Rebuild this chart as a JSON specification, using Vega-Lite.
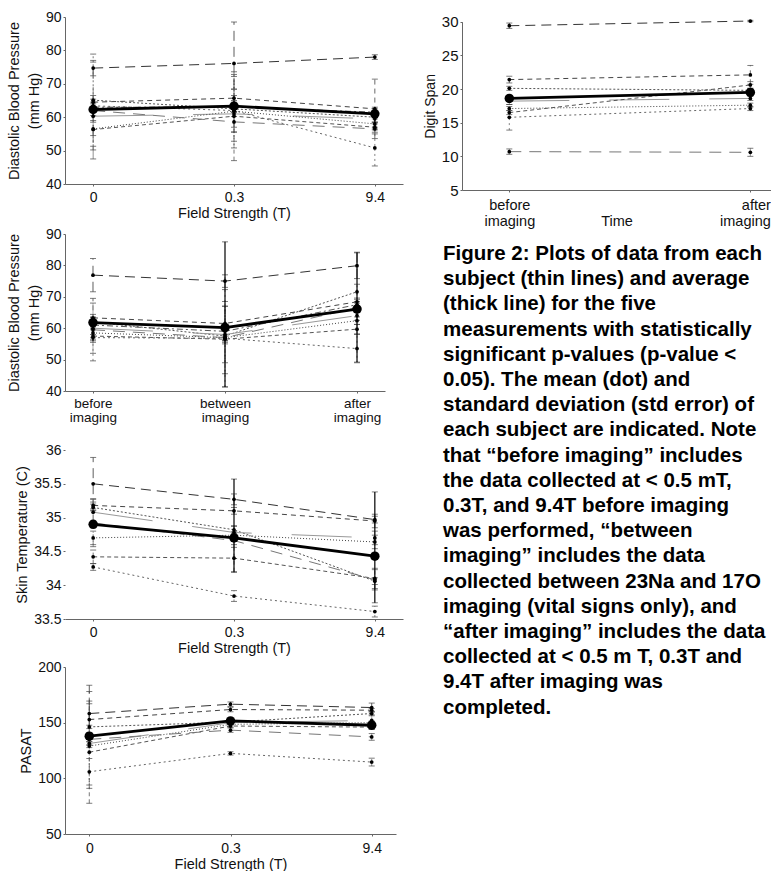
{
"$schema": "https://vega.github.io/schema/vega-lite/v6.json",
"background": "white",
"padding": {"left": 6, "top": 10, "right": 0, "bottom": 0},
"columns": 2,
"spacing": {"row": 44, "column": 59},
"bounds": "flush",
"datasets": {
"dbpField": [
{"subject":"A","x":"0","value":74.7,"lo":72.4,"hi":77.0},{"subject":"A","x":"0.3","value":76.1,"lo":63.7,"hi":88.5},{"subject":"A","x":"9.4","value":78.0,"lo":77.3,"hi":78.7},
{"subject":"B","x":"0","value":64.5,"lo":62.5,"hi":66.5},{"subject":"B","x":"0.3","value":65.7,"lo":63.0,"hi":68.4},{"subject":"B","x":"9.4","value":62.5,"lo":53.6,"hi":71.4},
{"subject":"C","x":"0","value":65.1,"lo":51.3,"hi":78.9},{"subject":"C","x":"0.3","value":62.5,"lo":52.8,"hi":72.2},{"subject":"C","x":"9.4","value":60.0,"lo":58.5,"hi":61.5},
{"subject":"D","x":"0","value":60.3,"lo":59.0,"hi":61.6},{"subject":"D","x":"0.3","value":61.0,"lo":55.5,"hi":66.5},{"subject":"D","x":"9.4","value":59.5,"lo":58.5,"hi":60.5},
{"subject":"E","x":"0","value":56.5,"lo":54.5,"hi":58.5},{"subject":"E","x":"0.3","value":61.8,"lo":50.8,"hi":72.8},{"subject":"E","x":"9.4","value":58.0,"lo":56.5,"hi":59.5},
{"subject":"F","x":"0","value":56.3,"lo":50.2,"hi":62.4},{"subject":"F","x":"0.3","value":60.3,"lo":47.0,"hi":73.6},{"subject":"F","x":"9.4","value":57.0,"lo":55.5,"hi":58.5},
{"subject":"G","x":"0","value":63.4,"lo":61.4,"hi":65.4},{"subject":"G","x":"0.3","value":62.0,"lo":55.6,"hi":68.4},{"subject":"G","x":"9.4","value":50.8,"lo":45.4,"hi":56.2},
{"subject":"H","x":"0","value":62.0,"lo":47.5,"hi":76.5},{"subject":"H","x":"0.3","value":58.6,"lo":57.0,"hi":60.2},{"subject":"H","x":"9.4","value":56.5,"lo":55.0,"hi":58.0},
{"subject":"I","x":"0","value":63.0,"lo":62.0,"hi":64.0},{"subject":"I","x":"0.3","value":63.0,"lo":61.5,"hi":64.5},{"subject":"I","x":"9.4","value":61.5,"lo":60.5,"hi":62.5},
{"subject":"mean","x":"0","value":62.3,"lo":60.5,"hi":64.5},{"subject":"mean","x":"0.3","value":63.3,"lo":61.5,"hi":65.0},{"subject":"mean","x":"9.4","value":61.0,"lo":57.0,"hi":63.0}
],
"dbpTime": [
{"subject":"A","x":"before imaging","value":76.9,"lo":71.6,"hi":82.2},{"subject":"A","x":"between imaging","value":75.0,"lo":73.0,"hi":77.0},{"subject":"A","x":"after imaging","value":79.9,"lo":75.8,"hi":84.0},
{"subject":"B","x":"before imaging","value":63.3,"lo":57.1,"hi":69.5},{"subject":"B","x":"between imaging","value":61.5,"lo":56.0,"hi":67.0},{"subject":"B","x":"after imaging","value":68.4,"lo":67.2,"hi":69.6},
{"subject":"C","x":"before imaging","value":62.0,"lo":60.5,"hi":63.5},{"subject":"C","x":"between imaging","value":57.5,"lo":55.5,"hi":59.5},{"subject":"C","x":"after imaging","value":71.6,"lo":69.2,"hi":74.0},
{"subject":"D","x":"before imaging","value":60.0,"lo":52.0,"hi":68.0},{"subject":"D","x":"between imaging","value":58.0,"lo":49.0,"hi":67.0},{"subject":"D","x":"after imaging","value":64.0,"lo":62.5,"hi":65.5},
{"subject":"E","x":"before imaging","value":58.5,"lo":56.5,"hi":60.5},{"subject":"E","x":"between imaging","value":57.0,"lo":45.5,"hi":68.5},{"subject":"E","x":"after imaging","value":62.4,"lo":61.2,"hi":63.6},
{"subject":"F","x":"before imaging","value":57.5,"lo":55.5,"hi":59.5},{"subject":"F","x":"between imaging","value":56.5,"lo":55.0,"hi":58.0},{"subject":"F","x":"after imaging","value":59.7,"lo":58.2,"hi":61.2},
{"subject":"G","x":"before imaging","value":57.0,"lo":49.6,"hi":64.4},{"subject":"G","x":"between imaging","value":56.8,"lo":41.3,"hi":72.3},{"subject":"G","x":"after imaging","value":53.5,"lo":49.0,"hi":58.0},
{"subject":"H","x":"before imaging","value":59.5,"lo":58.0,"hi":61.0},{"subject":"H","x":"between imaging","value":57.0,"lo":56.0,"hi":58.0},{"subject":"H","x":"after imaging","value":66.5,"lo":65.0,"hi":68.0},
{"subject":"I","x":"before imaging","value":61.0,"lo":60.0,"hi":62.0},{"subject":"I","x":"between imaging","value":59.0,"lo":57.5,"hi":60.5},{"subject":"I","x":"after imaging","value":67.5,"lo":66.5,"hi":68.5},
{"subject":"mean","x":"before imaging","value":61.8,"lo":56.0,"hi":63.5},{"subject":"mean","x":"between imaging","value":60.2,"lo":41.3,"hi":87.5},{"subject":"mean","x":"after imaging","value":66.1,"lo":49.2,"hi":84.2}
],
"skin": [
{"subject":"A","x":"0","value":35.50,"lo":35.11,"hi":35.89},{"subject":"A","x":"0.3","value":35.27,"lo":35.19,"hi":35.35},{"subject":"A","x":"9.4","value":34.97,"lo":34.92,"hi":35.02},
{"subject":"B","x":"0","value":35.18,"lo":35.13,"hi":35.23},{"subject":"B","x":"0.3","value":35.10,"lo":35.05,"hi":35.15},{"subject":"B","x":"9.4","value":34.95,"lo":34.85,"hi":35.05},
{"subject":"C","x":"0","value":35.15,"lo":35.10,"hi":35.20},{"subject":"C","x":"0.3","value":34.82,"lo":34.77,"hi":34.87},{"subject":"C","x":"9.4","value":34.06,"lo":34.01,"hi":34.11},
{"subject":"D","x":"0","value":35.08,"lo":34.88,"hi":35.28},{"subject":"D","x":"0.3","value":34.78,"lo":34.68,"hi":34.88},{"subject":"D","x":"9.4","value":34.70,"lo":34.60,"hi":34.80},
{"subject":"E","x":"0","value":34.70,"lo":34.60,"hi":34.80},{"subject":"E","x":"0.3","value":34.74,"lo":34.69,"hi":34.79},{"subject":"E","x":"9.4","value":34.64,"lo":34.54,"hi":34.74},
{"subject":"F","x":"0","value":34.42,"lo":34.32,"hi":34.52},{"subject":"F","x":"0.3","value":34.40,"lo":34.20,"hi":34.60},{"subject":"F","x":"9.4","value":34.10,"lo":33.95,"hi":34.25},
{"subject":"G","x":"0","value":34.27,"lo":34.22,"hi":34.32},{"subject":"G","x":"0.3","value":33.84,"lo":33.76,"hi":33.92},{"subject":"G","x":"9.4","value":33.61,"lo":33.53,"hi":33.69},
{"subject":"H","x":"0","value":34.92,"lo":34.57,"hi":35.27},{"subject":"H","x":"0.3","value":34.66,"lo":34.56,"hi":34.76},{"subject":"H","x":"9.4","value":34.08,"lo":33.93,"hi":34.23},
{"subject":"mean","x":"0","value":34.90,"lo":34.85,"hi":34.95},{"subject":"mean","x":"0.3","value":34.70,"lo":34.19,"hi":35.57},{"subject":"mean","x":"9.4","value":34.43,"lo":33.74,"hi":35.38}
],
"pasat": [
{"subject":"A","x":"0","value":158.2,"lo":133.0,"hi":183.6},{"subject":"A","x":"0.3","value":166.6,"lo":164.6,"hi":168.6},{"subject":"A","x":"9.4","value":163.6,"lo":159.6,"hi":167.6},
{"subject":"B","x":"0","value":152.8,"lo":127.6,"hi":178.0},{"subject":"B","x":"0.3","value":161.8,"lo":159.8,"hi":163.8},{"subject":"B","x":"9.4","value":161.2,"lo":159.7,"hi":162.7},
{"subject":"C","x":"0","value":146.2,"lo":144.7,"hi":147.7},{"subject":"C","x":"0.3","value":150.5,"lo":149.0,"hi":152.0},{"subject":"C","x":"9.4","value":158.2,"lo":156.2,"hi":160.2},
{"subject":"D","x":"0","value":131.3,"lo":129.8,"hi":132.8},{"subject":"D","x":"0.3","value":150.0,"lo":148.0,"hi":152.0},{"subject":"D","x":"9.4","value":152.0,"lo":147.0,"hi":157.0},
{"subject":"E","x":"0","value":129.0,"lo":91.0,"hi":167.0},{"subject":"E","x":"0.3","value":148.5,"lo":147.0,"hi":150.0},{"subject":"E","x":"9.4","value":150.0,"lo":148.5,"hi":151.5},
{"subject":"F","x":"0","value":123.5,"lo":77.6,"hi":169.4},{"subject":"F","x":"0.3","value":147.0,"lo":145.5,"hi":148.5},{"subject":"F","x":"9.4","value":146.0,"lo":144.0,"hi":148.0},
{"subject":"G","x":"0","value":105.9,"lo":94.0,"hi":117.8},{"subject":"G","x":"0.3","value":122.4,"lo":120.9,"hi":123.9},{"subject":"G","x":"9.4","value":114.6,"lo":111.1,"hi":118.1},
{"subject":"H","x":"0","value":135.0,"lo":130.0,"hi":140.0},{"subject":"H","x":"0.3","value":143.3,"lo":141.3,"hi":145.3},{"subject":"H","x":"9.4","value":137.2,"lo":134.2,"hi":140.2},
{"subject":"mean","x":"0","value":137.9,"lo":135.0,"hi":141.0},{"subject":"mean","x":"0.3","value":151.6,"lo":149.0,"hi":154.0},{"subject":"mean","x":"9.4","value":147.7,"lo":144.0,"hi":151.0}
],
"digit": [
{"subject":"A","x":"before imaging","value":29.4,"lo":29.0,"hi":29.8},{"subject":"A","x":"after imaging","value":30.1,"lo":30.0,"hi":30.2},
{"subject":"B","x":"before imaging","value":21.4,"lo":20.9,"hi":21.9},{"subject":"B","x":"after imaging","value":22.1,"lo":20.7,"hi":23.5},
{"subject":"C","x":"before imaging","value":20.1,"lo":19.8,"hi":20.4},{"subject":"C","x":"after imaging","value":19.8,"lo":19.5,"hi":20.1},
{"subject":"D","x":"before imaging","value":18.2,"lo":17.7,"hi":18.7},{"subject":"D","x":"after imaging","value":18.6,"lo":18.3,"hi":18.9},
{"subject":"E","x":"before imaging","value":17.1,"lo":16.8,"hi":17.4},{"subject":"E","x":"after imaging","value":17.6,"lo":17.3,"hi":17.9},
{"subject":"F","x":"before imaging","value":16.5,"lo":16.2,"hi":16.8},{"subject":"F","x":"after imaging","value":20.6,"lo":20.1,"hi":21.1},
{"subject":"G","x":"before imaging","value":15.8,"lo":13.9,"hi":17.7},{"subject":"G","x":"after imaging","value":17.1,"lo":16.8,"hi":17.4},
{"subject":"H","x":"before imaging","value":10.7,"lo":10.3,"hi":11.1},{"subject":"H","x":"after imaging","value":10.6,"lo":10.0,"hi":11.2},
{"subject":"mean","x":"before imaging","value":18.6,"lo":18.3,"hi":18.9},{"subject":"mean","x":"after imaging","value":19.5,"lo":19.1,"hi":19.9}
],
"caption": [
{"line":1,"text":"Figure 2: Plots of data from each"},
{"line":2,"text":"subject (thin lines) and average"},
{"line":3,"text":"(thick line) for the five"},
{"line":4,"text":"measurements with statistically"},
{"line":5,"text":"significant p-values (p-value <"},
{"line":6,"text":"0.05). The mean (dot) and"},
{"line":7,"text":"standard deviation (std error) of"},
{"line":8,"text":"each subject are indicated. Note"},
{"line":9,"text":"that “before imaging” includes"},
{"line":10,"text":"the data collected at < 0.5 mT,"},
{"line":11,"text":"0.3T, and 9.4T before imaging"},
{"line":12,"text":"was performed, “between"},
{"line":13,"text":"imaging” includes the data"},
{"line":14,"text":"collected between 23Na and 17O"},
{"line":15,"text":"imaging (vital signs only), and"},
{"line":16,"text":"“after imaging” includes the data"},
{"line":17,"text":"collected at < 0.5 m T, 0.3T and"},
{"line":18,"text":"9.4T after imaging was"},
{"line":19,"text":"completed."}
]
},
"concat": [
{
"width": 338, "height": 167,
"data": {"name": "dbpField"},
"encoding": {"x": {"field": "x", "type": "ordinal", "sort": ["0","0.3","9.4"], "scale": {"type": "point", "padding": 0.2}, "axis": {"title": "Field Strength (T)", "labelPadding": 4, "titlePadding": 2}}},
"layer": [
{"transform": [{"filter": "datum.subject !== 'mean'"}], "mark": {"type": "rule", "strokeWidth": 0.8}, "encoding": {"y": {"field": "lo", "type": "quantitative", "title": ["Diastolic Blood Pressure", "(mm Hg)"], "scale": {"domain": [40, 90], "nice": false, "zero": false}, "axis": {"values": [40,50,60,70,80,90], "titleLineHeight": 19.5}}, "y2": {"field": "hi"},
 "color": {"field": "subject", "type": "nominal", "scale": {"domain": ["A","B","C","D","E","F","G","H","I"], "range": ["#333","#444","#555","#999","#444","#555","#666","#777","#555"]}, "legend": null},
 "strokeDash": {"field": "subject", "type": "nominal", "scale": {"domain": ["A","B","C","D","E","F","G","H","I"], "range": [[10,6],[5,4],[2,2],[60,40],[1,2],[4,3],[2,3],[12,8],[6,3,2,3]]}, "legend": null}}},
{"mark": {"type": "tick", "size": 6, "thickness": 1, "color": "#444"}, "encoding": {"y": {"field": "lo", "type": "quantitative", "title": ["Diastolic Blood Pressure", "(mm Hg)"], "axis": {"values": [40,50,60,70,80,90], "titleLineHeight": 19.5}}}},
{"mark": {"type": "tick", "size": 6, "thickness": 1, "color": "#444"}, "encoding": {"y": {"field": "hi", "type": "quantitative", "title": ["Diastolic Blood Pressure", "(mm Hg)"], "axis": {"values": [40,50,60,70,80,90], "titleLineHeight": 19.5}}}},
{"transform": [{"filter": "datum.subject !== 'mean'"}], "mark": {"type": "line", "strokeWidth": 1}, "encoding": {"y": {"field": "value", "type": "quantitative", "title": ["Diastolic Blood Pressure", "(mm Hg)"], "axis": {"values": [40,50,60,70,80,90], "titleLineHeight": 19.5}},
 "color": {"field": "subject", "type": "nominal", "scale": {"domain": ["A","B","C","D","E","F","G","H","I"], "range": ["#333","#444","#555","#999","#444","#555","#666","#777","#555"]}, "legend": null},
 "strokeDash": {"field": "subject", "type": "nominal", "scale": {"domain": ["A","B","C","D","E","F","G","H","I"], "range": [[10,6],[5,4],[2,2],[60,40],[1,2],[4,3],[2,3],[12,8],[6,3,2,3]]}, "legend": null}}},
{"transform": [{"filter": "datum.subject !== 'mean'"}], "mark": {"type": "circle", "size": 14, "color": "#000", "opacity": 1}, "encoding": {"y": {"field": "value", "type": "quantitative", "title": ["Diastolic Blood Pressure", "(mm Hg)"], "axis": {"values": [40,50,60,70,80,90], "titleLineHeight": 19.5}}}},
{"transform": [{"filter": "datum.subject === 'mean'"}], "mark": {"type": "rule", "strokeWidth": 1.2, "color": "#000"}, "encoding": {"y": {"field": "lo", "type": "quantitative", "title": ["Diastolic Blood Pressure", "(mm Hg)"], "axis": {"values": [40,50,60,70,80,90], "titleLineHeight": 19.5}}, "y2": {"field": "hi"}}},
{"transform": [{"filter": "datum.subject === 'mean'"}], "mark": {"type": "line", "strokeWidth": 2.8, "color": "#000"}, "encoding": {"y": {"field": "value", "type": "quantitative", "title": ["Diastolic Blood Pressure", "(mm Hg)"], "axis": {"values": [40,50,60,70,80,90], "titleLineHeight": 19.5}}}},
{"transform": [{"filter": "datum.subject === 'mean'"}], "mark": {"type": "circle", "size": 90, "color": "#000", "opacity": 1}, "encoding": {"y": {"field": "value", "type": "quantitative", "title": ["Diastolic Blood Pressure", "(mm Hg)"], "axis": {"values": [40,50,60,70,80,90], "titleLineHeight": 19.5}}}}
]
},
{
"width": 309, "height": 173,
"data": {"name": "digit"},
"encoding": {"x": {"field": "x", "type": "ordinal", "sort": ["before imaging","after imaging"], "scale": {"type": "point", "padding": 0.141, "align": 0.696}, "axis": {"title": "Time", "titleY": 31, "titleBaseline": "middle", "labelExpr": "split(datum.label, ' ')", "labelLineHeight": 16, "labelFontSize": 14.5, "labelPadding": 6, "labelFlush": 30, "labelFlushOffset": 20}}},
"layer": [
{"transform": [{"filter": "datum.subject !== 'mean'"}], "mark": {"type": "rule", "strokeWidth": 0.8}, "encoding": {"y": {"field": "lo", "type": "quantitative", "title": "Digit Span", "scale": {"domain": [5, 30], "nice": false, "zero": false, "range": [173, 4.7]}, "axis": {"values": [5,10,15,20,25,30], "labelFontSize": 15, "titleFontSize": 14}}, "y2": {"field": "hi"},
 "color": {"field": "subject", "type": "nominal", "scale": {"domain": ["A","B","C","D","E","F","G","H","I"], "range": ["#333","#444","#555","#999","#444","#555","#666","#777","#555"]}, "legend": null},
 "strokeDash": {"field": "subject", "type": "nominal", "scale": {"domain": ["A","B","C","D","E","F","G","H","I"], "range": [[10,6],[5,4],[2,2],[60,40],[1,2],[4,3],[2,3],[12,8],[6,3,2,3]]}, "legend": null}}},
{"mark": {"type": "tick", "size": 6, "thickness": 1, "color": "#444"}, "encoding": {"y": {"field": "lo", "type": "quantitative", "title": "Digit Span", "axis": {"values": [5,10,15,20,25,30], "labelFontSize": 15, "titleFontSize": 14}}}},
{"mark": {"type": "tick", "size": 6, "thickness": 1, "color": "#444"}, "encoding": {"y": {"field": "hi", "type": "quantitative", "title": "Digit Span", "axis": {"values": [5,10,15,20,25,30], "labelFontSize": 15, "titleFontSize": 14}}}},
{"transform": [{"filter": "datum.subject !== 'mean'"}], "mark": {"type": "line", "strokeWidth": 1}, "encoding": {"y": {"field": "value", "type": "quantitative", "title": "Digit Span", "axis": {"values": [5,10,15,20,25,30], "labelFontSize": 15, "titleFontSize": 14}},
 "color": {"field": "subject", "type": "nominal", "scale": {"domain": ["A","B","C","D","E","F","G","H","I"], "range": ["#333","#444","#555","#999","#444","#555","#666","#777","#555"]}, "legend": null},
 "strokeDash": {"field": "subject", "type": "nominal", "scale": {"domain": ["A","B","C","D","E","F","G","H","I"], "range": [[10,6],[5,4],[2,2],[60,40],[1,2],[4,3],[2,3],[12,8],[6,3,2,3]]}, "legend": null}}},
{"transform": [{"filter": "datum.subject !== 'mean'"}], "mark": {"type": "circle", "size": 14, "color": "#000", "opacity": 1}, "encoding": {"y": {"field": "value", "type": "quantitative", "title": "Digit Span", "axis": {"values": [5,10,15,20,25,30], "labelFontSize": 15, "titleFontSize": 14}}}},
{"transform": [{"filter": "datum.subject === 'mean'"}], "mark": {"type": "rule", "strokeWidth": 1.2, "color": "#000"}, "encoding": {"y": {"field": "lo", "type": "quantitative", "title": "Digit Span", "axis": {"values": [5,10,15,20,25,30], "labelFontSize": 15, "titleFontSize": 14}}, "y2": {"field": "hi"}}},
{"transform": [{"filter": "datum.subject === 'mean'"}], "mark": {"type": "line", "strokeWidth": 2.8, "color": "#000"}, "encoding": {"y": {"field": "value", "type": "quantitative", "title": "Digit Span", "axis": {"values": [5,10,15,20,25,30], "labelFontSize": 15, "titleFontSize": 14}}}},
{"transform": [{"filter": "datum.subject === 'mean'"}], "mark": {"type": "circle", "size": 90, "color": "#000", "opacity": 1}, "encoding": {"y": {"field": "value", "type": "quantitative", "title": "Digit Span", "axis": {"values": [5,10,15,20,25,30], "labelFontSize": 15, "titleFontSize": 14}}}}
]
},
{
"width": 320, "height": 157,
"data": {"name": "dbpTime"},
"encoding": {"x": {"field": "x", "type": "ordinal", "sort": ["before imaging","between imaging","after imaging"], "scale": {"type": "point", "padding": 0.212}, "axis": {"title": null, "labelExpr": "split(datum.label, ' ')", "labelLineHeight": 14, "labelFontSize": 13.5, "labelPadding": 3}}},
"layer": [
{"transform": [{"filter": "datum.subject !== 'mean'"}], "mark": {"type": "rule", "strokeWidth": 0.8}, "encoding": {"y": {"field": "lo", "type": "quantitative", "title": ["Diastolic Blood Pressure", "(mm Hg)"], "scale": {"domain": [40, 90], "nice": false, "zero": false}, "axis": {"values": [40,50,60,70,80,90], "titleLineHeight": 19.5}}, "y2": {"field": "hi"},
 "color": {"field": "subject", "type": "nominal", "scale": {"domain": ["A","B","C","D","E","F","G","H","I"], "range": ["#333","#444","#555","#999","#444","#555","#666","#777","#555"]}, "legend": null},
 "strokeDash": {"field": "subject", "type": "nominal", "scale": {"domain": ["A","B","C","D","E","F","G","H","I"], "range": [[10,6],[5,4],[2,2],[60,40],[1,2],[4,3],[2,3],[12,8],[6,3,2,3]]}, "legend": null}}},
{"mark": {"type": "tick", "size": 6, "thickness": 1, "color": "#444"}, "encoding": {"y": {"field": "lo", "type": "quantitative", "title": ["Diastolic Blood Pressure", "(mm Hg)"], "axis": {"values": [40,50,60,70,80,90], "titleLineHeight": 19.5}}}},
{"mark": {"type": "tick", "size": 6, "thickness": 1, "color": "#444"}, "encoding": {"y": {"field": "hi", "type": "quantitative", "title": ["Diastolic Blood Pressure", "(mm Hg)"], "axis": {"values": [40,50,60,70,80,90], "titleLineHeight": 19.5}}}},
{"transform": [{"filter": "datum.subject !== 'mean'"}], "mark": {"type": "line", "strokeWidth": 1}, "encoding": {"y": {"field": "value", "type": "quantitative", "title": ["Diastolic Blood Pressure", "(mm Hg)"], "axis": {"values": [40,50,60,70,80,90], "titleLineHeight": 19.5}},
 "color": {"field": "subject", "type": "nominal", "scale": {"domain": ["A","B","C","D","E","F","G","H","I"], "range": ["#333","#444","#555","#999","#444","#555","#666","#777","#555"]}, "legend": null},
 "strokeDash": {"field": "subject", "type": "nominal", "scale": {"domain": ["A","B","C","D","E","F","G","H","I"], "range": [[10,6],[5,4],[2,2],[60,40],[1,2],[4,3],[2,3],[12,8],[6,3,2,3]]}, "legend": null}}},
{"transform": [{"filter": "datum.subject !== 'mean'"}], "mark": {"type": "circle", "size": 14, "color": "#000", "opacity": 1}, "encoding": {"y": {"field": "value", "type": "quantitative", "title": ["Diastolic Blood Pressure", "(mm Hg)"], "axis": {"values": [40,50,60,70,80,90], "titleLineHeight": 19.5}}}},
{"transform": [{"filter": "datum.subject === 'mean'"}], "mark": {"type": "rule", "strokeWidth": 1.2, "color": "#000"}, "encoding": {"y": {"field": "lo", "type": "quantitative", "title": ["Diastolic Blood Pressure", "(mm Hg)"], "axis": {"values": [40,50,60,70,80,90], "titleLineHeight": 19.5}}, "y2": {"field": "hi"}}},
{"transform": [{"filter": "datum.subject === 'mean'"}], "mark": {"type": "line", "strokeWidth": 2.8, "color": "#000"}, "encoding": {"y": {"field": "value", "type": "quantitative", "title": ["Diastolic Blood Pressure", "(mm Hg)"], "axis": {"values": [40,50,60,70,80,90], "titleLineHeight": 19.5}}}},
{"transform": [{"filter": "datum.subject === 'mean'"}], "mark": {"type": "circle", "size": 90, "color": "#000", "opacity": 1}, "encoding": {"y": {"field": "value", "type": "quantitative", "title": ["Diastolic Blood Pressure", "(mm Hg)"], "axis": {"values": [40,50,60,70,80,90], "titleLineHeight": 19.5}}}}
]
},
{
"width": 309, "height": 171.5,
"data": {"name": "caption"},
"mark": {"type": "text", "align": "left", "baseline": "middle", "font": "Liberation Sans", "fontWeight": "bold", "fontSize": 20.5, "dx": -19, "color": "#000"},
"encoding": {
 "x": {"datum": 0, "type": "quantitative", "scale": {"domain": [0, 1]}, "axis": null},
 "y": {"field": "line", "type": "quantitative", "scale": {"domain": [1, 19], "range": [20, 473.6]}, "axis": null},
 "text": {"field": "text"}
}
},
{
"width": 338, "height": 169,
"data": {"name": "skin"},
"encoding": {"x": {"field": "x", "type": "ordinal", "sort": ["0","0.3","9.4"], "scale": {"type": "point", "padding": 0.2}, "axis": {"title": "Field Strength (T)", "labelPadding": 4, "titlePadding": 2}}},
"layer": [
{"transform": [{"filter": "datum.subject !== 'mean'"}], "mark": {"type": "rule", "strokeWidth": 0.8}, "encoding": {"y": {"field": "lo", "type": "quantitative", "title": "Skin Temperature (C)", "scale": {"domain": [33.5, 36], "nice": false, "zero": false}, "axis": {"values": [33.5,34,34.5,35,35.5,36], "format": ".1~f", "domain": false}}, "y2": {"field": "hi"},
 "color": {"field": "subject", "type": "nominal", "scale": {"domain": ["A","B","C","D","E","F","G","H","I"], "range": ["#333","#444","#555","#999","#444","#555","#666","#777","#555"]}, "legend": null},
 "strokeDash": {"field": "subject", "type": "nominal", "scale": {"domain": ["A","B","C","D","E","F","G","H","I"], "range": [[10,6],[5,4],[2,2],[60,40],[1,2],[4,3],[2,3],[12,8],[6,3,2,3]]}, "legend": null}}},
{"mark": {"type": "tick", "size": 6, "thickness": 1, "color": "#444"}, "encoding": {"y": {"field": "lo", "type": "quantitative", "title": "Skin Temperature (C)", "axis": {"values": [33.5,34,34.5,35,35.5,36], "format": ".1~f", "domain": false}}}},
{"mark": {"type": "tick", "size": 6, "thickness": 1, "color": "#444"}, "encoding": {"y": {"field": "hi", "type": "quantitative", "title": "Skin Temperature (C)", "axis": {"values": [33.5,34,34.5,35,35.5,36], "format": ".1~f", "domain": false}}}},
{"transform": [{"filter": "datum.subject !== 'mean'"}], "mark": {"type": "line", "strokeWidth": 1}, "encoding": {"y": {"field": "value", "type": "quantitative", "title": "Skin Temperature (C)", "axis": {"values": [33.5,34,34.5,35,35.5,36], "format": ".1~f", "domain": false}},
 "color": {"field": "subject", "type": "nominal", "scale": {"domain": ["A","B","C","D","E","F","G","H","I"], "range": ["#333","#444","#555","#999","#444","#555","#666","#777","#555"]}, "legend": null},
 "strokeDash": {"field": "subject", "type": "nominal", "scale": {"domain": ["A","B","C","D","E","F","G","H","I"], "range": [[10,6],[5,4],[2,2],[60,40],[1,2],[4,3],[2,3],[12,8],[6,3,2,3]]}, "legend": null}}},
{"transform": [{"filter": "datum.subject !== 'mean'"}], "mark": {"type": "circle", "size": 14, "color": "#000", "opacity": 1}, "encoding": {"y": {"field": "value", "type": "quantitative", "title": "Skin Temperature (C)", "axis": {"values": [33.5,34,34.5,35,35.5,36], "format": ".1~f", "domain": false}}}},
{"transform": [{"filter": "datum.subject === 'mean'"}], "mark": {"type": "rule", "strokeWidth": 1.2, "color": "#000"}, "encoding": {"y": {"field": "lo", "type": "quantitative", "title": "Skin Temperature (C)", "axis": {"values": [33.5,34,34.5,35,35.5,36], "format": ".1~f", "domain": false}}, "y2": {"field": "hi"}}},
{"transform": [{"filter": "datum.subject === 'mean'"}], "mark": {"type": "line", "strokeWidth": 2.8, "color": "#000"}, "encoding": {"y": {"field": "value", "type": "quantitative", "title": "Skin Temperature (C)", "axis": {"values": [33.5,34,34.5,35,35.5,36], "format": ".1~f", "domain": false}}}},
{"transform": [{"filter": "datum.subject === 'mean'"}], "mark": {"type": "circle", "size": 90, "color": "#000", "opacity": 1}, "encoding": {"y": {"field": "value", "type": "quantitative", "title": "Skin Temperature (C)", "axis": {"values": [33.5,34,34.5,35,35.5,36], "format": ".1~f", "domain": false}}}}
]
},
{
"width": 10, "height": 172.5,
"data": {"values": []},
"mark": {"type": "point"},
"encoding": {}
},
{
"width": 331, "height": 167,
"data": {"name": "pasat"},
"encoding": {"x": {"field": "x", "type": "ordinal", "sort": ["0","0.3","9.4"], "scale": {"type": "point", "padding": 0.172}, "axis": {"title": "Field Strength (T)", "labelPadding": 5, "titlePadding": 2}}},
"layer": [
{"transform": [{"filter": "datum.subject !== 'mean'"}], "mark": {"type": "rule", "strokeWidth": 0.8}, "encoding": {"y": {"field": "lo", "type": "quantitative", "title": "PASAT", "scale": {"domain": [50, 200], "nice": false, "zero": false}, "axis": {"values": [50,100,150,200]}}, "y2": {"field": "hi"},
 "color": {"field": "subject", "type": "nominal", "scale": {"domain": ["A","B","C","D","E","F","G","H","I"], "range": ["#333","#444","#555","#999","#444","#555","#666","#777","#555"]}, "legend": null},
 "strokeDash": {"field": "subject", "type": "nominal", "scale": {"domain": ["A","B","C","D","E","F","G","H","I"], "range": [[10,6],[5,4],[2,2],[60,40],[1,2],[4,3],[2,3],[12,8],[6,3,2,3]]}, "legend": null}}},
{"mark": {"type": "tick", "size": 6, "thickness": 1, "color": "#444"}, "encoding": {"y": {"field": "lo", "type": "quantitative", "title": "PASAT", "axis": {"values": [50,100,150,200]}}}},
{"mark": {"type": "tick", "size": 6, "thickness": 1, "color": "#444"}, "encoding": {"y": {"field": "hi", "type": "quantitative", "title": "PASAT", "axis": {"values": [50,100,150,200]}}}},
{"transform": [{"filter": "datum.subject !== 'mean'"}], "mark": {"type": "line", "strokeWidth": 1}, "encoding": {"y": {"field": "value", "type": "quantitative", "title": "PASAT", "axis": {"values": [50,100,150,200]}},
 "color": {"field": "subject", "type": "nominal", "scale": {"domain": ["A","B","C","D","E","F","G","H","I"], "range": ["#333","#444","#555","#999","#444","#555","#666","#777","#555"]}, "legend": null},
 "strokeDash": {"field": "subject", "type": "nominal", "scale": {"domain": ["A","B","C","D","E","F","G","H","I"], "range": [[10,6],[5,4],[2,2],[60,40],[1,2],[4,3],[2,3],[12,8],[6,3,2,3]]}, "legend": null}}},
{"transform": [{"filter": "datum.subject !== 'mean'"}], "mark": {"type": "circle", "size": 14, "color": "#000", "opacity": 1}, "encoding": {"y": {"field": "value", "type": "quantitative", "title": "PASAT", "axis": {"values": [50,100,150,200]}}}},
{"transform": [{"filter": "datum.subject === 'mean'"}], "mark": {"type": "rule", "strokeWidth": 1.2, "color": "#000"}, "encoding": {"y": {"field": "lo", "type": "quantitative", "title": "PASAT", "axis": {"values": [50,100,150,200]}}, "y2": {"field": "hi"}}},
{"transform": [{"filter": "datum.subject === 'mean'"}], "mark": {"type": "line", "strokeWidth": 2.8, "color": "#000"}, "encoding": {"y": {"field": "value", "type": "quantitative", "title": "PASAT", "axis": {"values": [50,100,150,200]}}}},
{"transform": [{"filter": "datum.subject === 'mean'"}], "mark": {"type": "circle", "size": 90, "color": "#000", "opacity": 1}, "encoding": {"y": {"field": "value", "type": "quantitative", "title": "PASAT", "axis": {"values": [50,100,150,200]}}}}
]
}
],
"config": {
"view": {"stroke": null},
"font": "Liberation Sans",
"axis": {"grid": false, "domainColor": "#666", "tickColor": "#666", "tickSize": 2, "labelColor": "#111", "titleColor": "#111", "labelFontSize": 14, "titleFontSize": 14.5, "titleFontWeight": "normal", "labelFont": "Liberation Sans", "titleFont": "Liberation Sans"},
"axisX": {"labelAngle": 0}
}
}
